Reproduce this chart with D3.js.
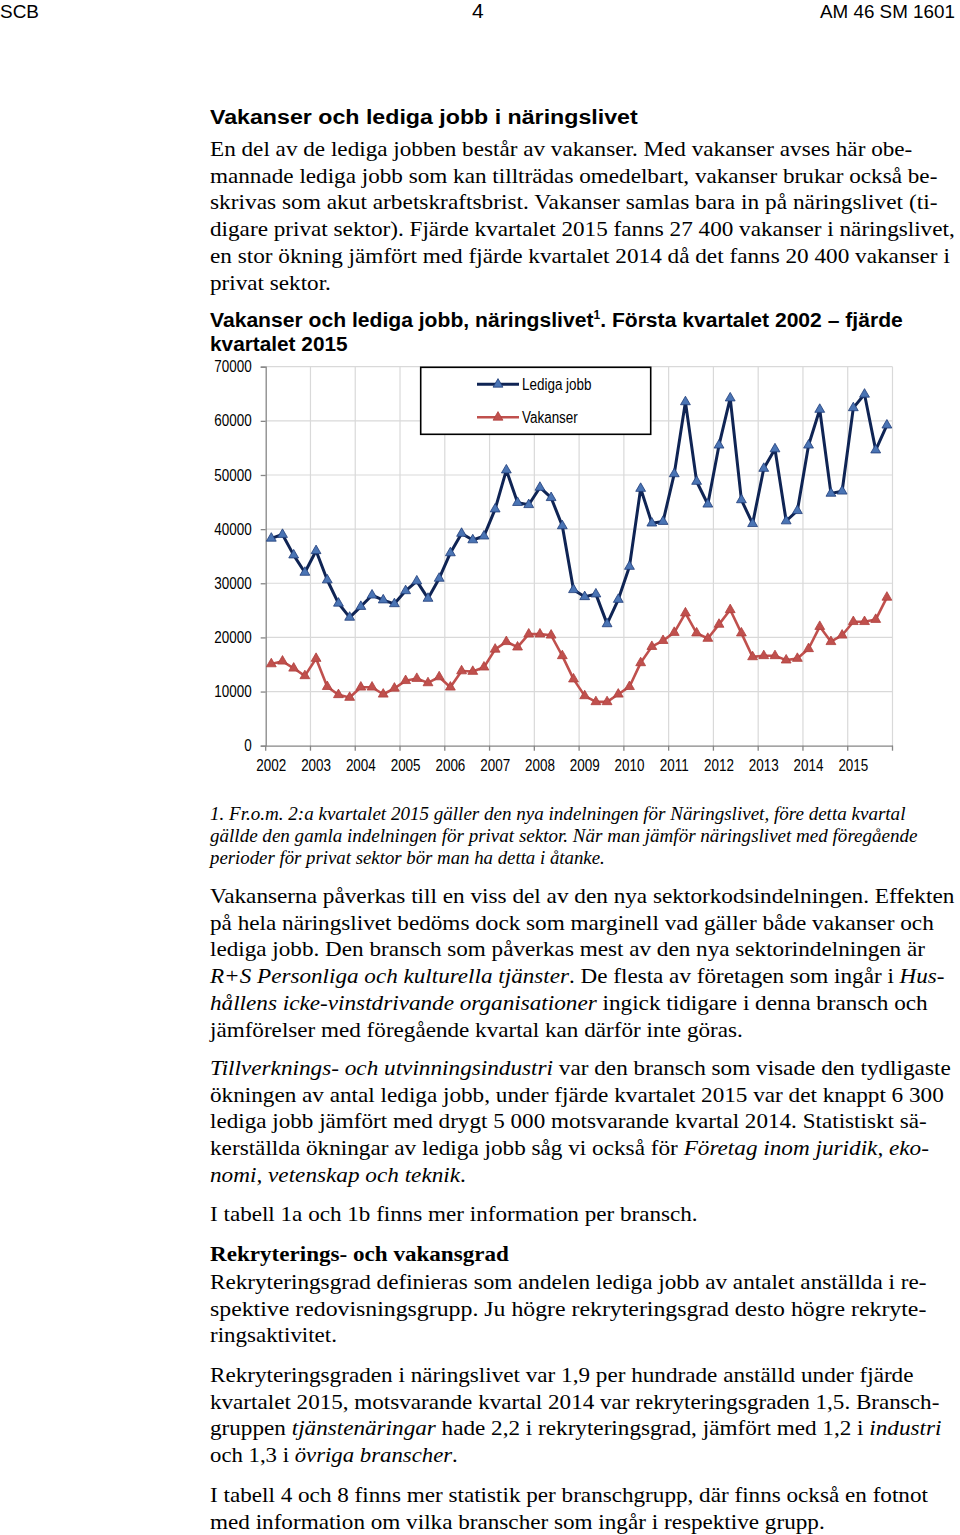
<!DOCTYPE html>
<html><head><meta charset="utf-8">
<script src="https://cdn.jsdelivr.net/npm/d3@7"></script>
<style>
html,body{margin:0;padding:0;background:#fff;}
svg{display:block;}
</style></head>
<body>
<script>
// ---------- DATA ----------
const years = ["2002","2003","2004","2005","2006","2007","2008","2009","2010","2011","2012","2013","2014","2015"];
const quarters = ["K1","K2","K3","K4"];
const categories = years.flatMap(y => quarters.map(q => y + q));
const ledigaJobb = [38300,39000,35200,32000, 36000,30600,26300,23700, 25700,27800,26900,26200,
  28600,30400,27200,30900, 35600,39200,38000,38700, 43700,50900,44900,44500,
  47700,45800,40600,28800, 27500,28000,22500,27000, 33100,47500,41100,41400,
  50200,63500,48800,44600, 55500,64200,45400,41000, 51200,54800,41500,43400,
  55500,62100,46600,47000, 62400,64900,54600,59200];
const vakanser = [15100,15600,14300,12900, 16100,10900,9400,8900, 10800,10800,9500,10600,
  12000,12400,11600,12700, 10800,13800,13700,14500, 17800,19200,18200,20600,
  20600,20400,16600,12300, 9200,8100,8100,9500, 10900,15300,18300,19400,
  20900,24500,20800,19800, 22400,25100,20800,16400, 16600,16600,15800,16100,
  17900,22000,19200,20400, 22900,22900,23300,27400];
const yTicks = [0,10000,20000,30000,40000,50000,60000,70000];
const seriesNames = ["Lediga jobb","Vakanser"];

// ---------- TEXTS ----------
const headerTexts = ["SCB","4","AM 46 SM 1601"];
const heading1 = "Vakanser och lediga jobb i näringslivet";
const para1 = [
 "En del av de lediga jobben består av vakanser. Med vakanser avses här obe-",
 "mannade lediga jobb som kan tillträdas omedelbart, vakanser brukar också be-",
 "skrivas som akut arbetskraftsbrist. Vakanser samlas bara in på näringslivet (ti-",
 "digare privat sektor). Fjärde kvartalet 2015 fanns 27 400 vakanser i näringslivet,",
 "en stor ökning jämfört med fjärde kvartalet 2014 då det fanns 20 400 vakanser i",
 "privat sektor."];
const chartTitle1a = "Vakanser och lediga jobb, näringslivet";
const chartTitle1b = ". Första kvartalet 2002 – fjärde";
const chartTitle2 = "kvartalet 2015";
const footnote = [
 "1. Fr.o.m. 2:a kvartalet 2015 gäller den nya indelningen för Näringslivet, före detta kvartal",
 "gällde den gamla indelningen för privat sektor. När man jämför näringslivet med föregående",
 "perioder för privat sektor bör man ha detta i åtanke."];
const para2 = [
 "Vakanserna påverkas till en viss del av den nya sektorkodsindelningen. Effekten",
 "på hela näringslivet bedöms dock som marginell vad gäller både vakanser och",
 "lediga jobb. Den bransch som påverkas mest av den nya sektorindelningen är",
 "*R+S Personliga och kulturella tjänster*. De flesta av företagen som ingår i *Hus-*",
 "*hållens icke-vinstdrivande organisationer* ingick tidigare i denna bransch och",
 "jämförelser med föregående kvartal kan därför inte göras."];
const para3 = [
 "*Tillverknings- och utvinningsindustri* var den bransch som visade den tydligaste",
 "ökningen av antal lediga jobb, under fjärde kvartalet 2015 var det knappt 6 300",
 "lediga jobb jämfört med drygt 5 000 motsvarande kvartal 2014. Statistiskt sä-",
 "kerställda ökningar av lediga jobb såg vi också för *Företag inom juridik, eko-*",
 "*nomi, vetenskap och teknik*."];
const para4 = ["I tabell 1a och 1b finns mer information per bransch."];
const heading2 = "Rekryterings- och vakansgrad";
const para5 = [
 "Rekryteringsgrad definieras som andelen lediga jobb av antalet anställda i re-",
 "spektive redovisningsgrupp. Ju högre rekryteringsgrad desto högre rekryte-",
 "ringsaktivitet."];
const para6 = [
 "Rekryteringsgraden i näringslivet var 1,9 per hundrade anställd under fjärde",
 "kvartalet 2015, motsvarande kvartal 2014 var rekryteringsgraden 1,5. Bransch-",
 "gruppen *tjänstenäringar* hade 2,2 i rekryteringsgrad, jämfört med 1,2 i *industri*",
 "och 1,3 i *övriga branscher*."];
const para7 = [
 "I tabell 4 och 8 finns mer statistik per branschgrupp, där finns också en fotnot",
 "med information om vilka branscher som ingår i respektive grupp."];

// ---------- RENDER ----------
const svg = d3.select("body").append("svg").attr("width",960).attr("height",1535);
const SERIF = "'Liberation Serif','Times New Roman',serif";
const SANS = "'Liberation Sans','Arial',sans-serif";

function fitText(str, x, y, targetW, font, size, weight, baseItalic){
  const t = svg.append("text").attr("font-family",font).attr("font-size",size)
    .attr("font-weight",weight||"normal").attr("fill","#000")
    .attr("transform",`translate(${x},${y})`);
  str.split("*").forEach((seg,i)=>{
    if(!seg) return;
    const it = (i%2===1) !== !!baseItalic;
    t.append("tspan").text(seg).attr("font-style", it?"italic":"normal");
  });
  if(targetW){
    const w = t.node().getBBox().width;
    t.attr("transform",`translate(${x},${y}) scale(${targetW/w},1)`);
  }
  return t;
}
// condense a selection of plain text nodes horizontally
function condense(sel, k){
  sel.each(function(){
    const w = this.getComputedTextLength();
    d3.select(this).attr("textLength", w*k).attr("lengthAdjust","spacingAndGlyphs");
  });
}

// header
fitText(headerTexts[0], 0, 18, 39, SANS, 18, "normal");
fitText(headerTexts[1], 472, 18, 12, SANS, 21, "normal");
fitText(headerTexts[2], 820, 18, 135, SANS, 18, "normal");

// heading
fitText(heading1, 210, 124, 428, SANS, 21, "bold");

function para(lines, y0, ends, size, lh, italic){
  lines.forEach((l,i)=> fitText(l, 210, y0 + i*lh, ends[i]-210, SERIF, size, "normal", italic));
}
para(para1, 156, [913,938,938,955,950,331], 22, 26.7);

// chart title
{
  const t = svg.append("text").attr("font-family",SANS).attr("font-size",21).attr("font-weight","bold")
    .attr("transform","translate(210,327)");
  t.append("tspan").text(chartTitle1a);
  t.append("tspan").text("1").attr("font-size",12).attr("dy",-8);
  t.append("tspan").text(chartTitle1b).attr("dy",8);
  const w = t.node().getBBox().width;
  t.attr("transform",`translate(210,327) scale(${(903-210)/w},1)`);
}
fitText(chartTitle2, 210, 351, 138, SANS, 21, "bold");

// ---------- CHART ----------
const x = d3.scaleBand().domain(categories).range([265.7, 892.5]).paddingInner(0).paddingOuter(0);
const y = d3.scaleLinear().domain([0,70000]).range([745.7, 366.7]);
const g = svg.append("g");

// horizontal gridlines
g.append("g").selectAll("line").data(yTicks.filter(d=>d>0)).join("line")
  .attr("x1",x.range()[0]).attr("x2",x.range()[1])
  .attr("y1",d=>y(d)).attr("y2",d=>y(d))
  .attr("stroke","#d9d9d9").attr("stroke-width",1.2);
// vertical gridlines at year boundaries
const boundaries = years.slice(1).map(yr=>x(yr+"K1")).concat([x.range()[1]]);
g.append("g").selectAll("line").data(boundaries).join("line")
  .attr("x1",d=>d).attr("x2",d=>d).attr("y1",y(70000)).attr("y2",y(0))
  .attr("stroke","#d9d9d9").attr("stroke-width",1.2);

// y axis
const yAxis = d3.axisLeft(y).tickValues(yTicks).tickFormat(d=>String(d)).tickSize(5).tickPadding(9);
const ya = g.append("g").attr("transform",`translate(${x.range()[0]},0)`).call(yAxis);
ya.select(".domain").attr("stroke","#868686").attr("stroke-width",1.3);
ya.selectAll(".tick line").attr("stroke","#868686").attr("stroke-width",1.3);
ya.selectAll(".tick text").attr("font-family",SANS).attr("font-size",16).attr("fill","#000");
condense(ya.selectAll(".tick text"), 0.84);

// x axis (labels on first quarter of each year)
const xAxis = d3.axisBottom(x).tickValues(years.map(yr=>yr+"K1")).tickFormat(c=>c.slice(0,4)).tickSize(0).tickPadding(14);
const xa = g.append("g").attr("transform",`translate(0,${y(0)})`).call(xAxis);
xa.select(".domain").attr("stroke","#868686").attr("stroke-width",1.3);
xa.selectAll(".tick text").attr("font-family",SANS).attr("font-size",16).attr("fill","#000");
condense(xa.selectAll(".tick text"), 0.84);
g.append("g").selectAll("line").data([x.range()[0]].concat(boundaries)).join("line")
  .attr("x1",d=>d).attr("x2",d=>d).attr("y1",y(0)).attr("y2",y(0)+5)
  .attr("stroke","#868686").attr("stroke-width",1.3);

const cx = c => x(c) + x.bandwidth()/2;
const lineGen = vals => d3.line().x((d,i)=>cx(categories[i])).y(d=>y(d))(vals);
const tri = d3.symbol(d3.symbolTriangle).size(42);

// Vakanser
g.append("path").attr("d",lineGen(vakanser)).attr("fill","none").attr("stroke","#c0504d").attr("stroke-width",2.6).attr("stroke-linejoin","round");
g.append("g").selectAll("path").data(vakanser).join("path")
  .attr("d",tri).attr("transform",(d,i)=>`translate(${cx(categories[i])},${y(d)})`)
  .attr("fill","#c0504d").attr("stroke","#b0403d").attr("stroke-width",0.8);

// Lediga jobb
g.append("path").attr("d",lineGen(ledigaJobb)).attr("fill","none").attr("stroke","#0f2454").attr("stroke-width",3).attr("stroke-linejoin","round");
g.append("g").selectAll("path").data(ledigaJobb).join("path")
  .attr("d",tri).attr("transform",(d,i)=>`translate(${cx(categories[i])},${y(d)})`)
  .attr("fill","#4a74b4").attr("stroke","#1f3c78").attr("stroke-width",0.8);

// legend
const lg = g.append("g");
lg.append("rect").attr("x",420.7).attr("y",367.3).attr("width",230).attr("height",67)
  .attr("fill","#fff").attr("stroke","#000").attr("stroke-width",1.6);
const legendItems = [
  {name:seriesNames[0], stroke:"#0f2454", fill:"#4a74b4", ms:"#1f3c78", y:384.3, w:3},
  {name:seriesNames[1], stroke:"#c0504d", fill:"#c0504d", ms:"#b0403d", y:417.3, w:2.6}];
legendItems.forEach(it=>{
  lg.append("line").attr("x1",477).attr("x2",519).attr("y1",it.y).attr("y2",it.y)
    .attr("stroke",it.stroke).attr("stroke-width",it.w);
  lg.append("path").attr("d",tri).attr("transform",`translate(498,${it.y})`)
    .attr("fill",it.fill).attr("stroke",it.ms).attr("stroke-width",0.8);
  const tx = lg.append("text").attr("x",522).attr("y",it.y+5.5).text(it.name)
    .attr("font-family",SANS).attr("font-size",16).attr("fill","#000");
  condense(tx, 0.84);
});

// ---------- REST OF TEXT ----------
para(footnote, 820, [906,918,607], 19, 22, true);
para(para2, 903, [955,934,926,946,928,744], 22, 26.7);
para(para3, 1075, [951,944,927,929,466], 22, 26.7);
para(para4, 1221, [698], 22, 26.7);
fitText(heading2, 210, 1261, 299, SERIF, 22, "bold");
para(para5, 1289, [927,927,337], 22, 26.7);
para(para6, 1382, [914,940,942,458], 22, 26.7);
para(para7, 1502, [928,825], 22, 26.7);
</script>
</body></html>
